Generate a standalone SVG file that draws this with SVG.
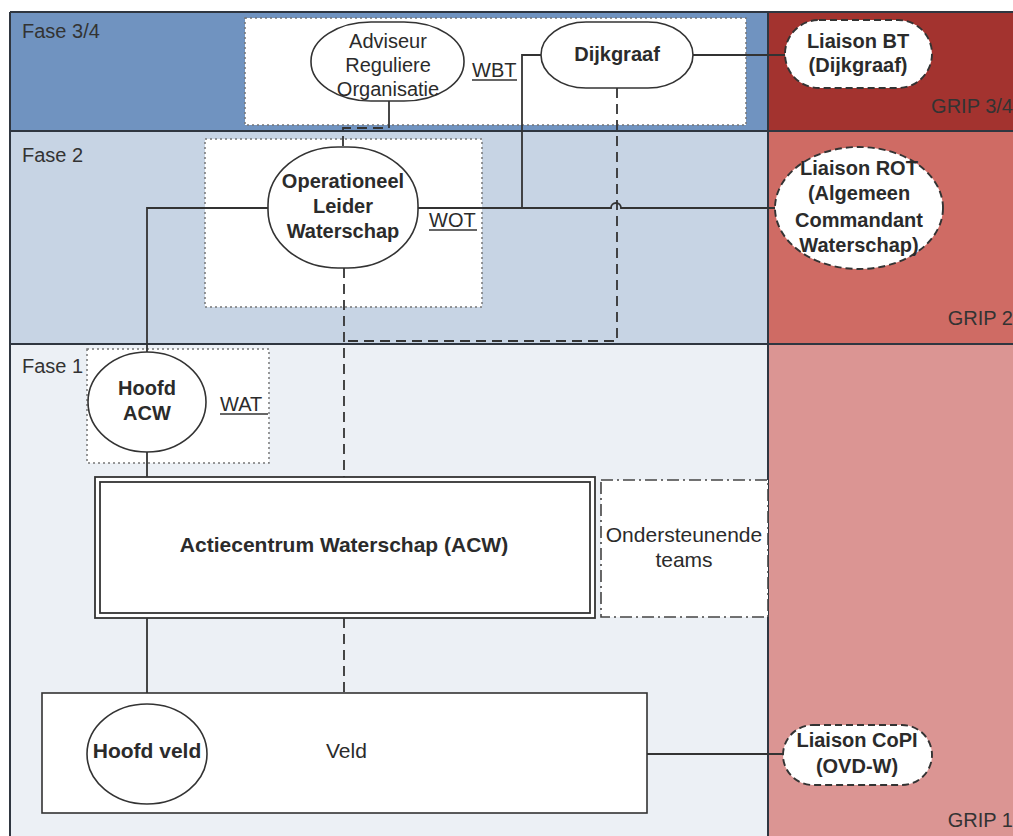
<svg xmlns="http://www.w3.org/2000/svg" width="1013" height="836" viewBox="0 0 1013 836">
<style>
text{font-family:"Liberation Sans",Arial,sans-serif;fill:#2b2b2b;font-size:20px}
.b{font-weight:bold}
.c{text-anchor:middle}
.e{text-anchor:end}
.big{font-size:21px}
.lab{fill:#333}
.band{stroke:#2f3640;stroke-width:2}
.node{fill:#fff;stroke:#333;stroke-width:1.6}
.liaison{fill:#fff;stroke:#333;stroke-width:1.9;stroke-dasharray:7 4}
.grp{fill:#fff;stroke:#777;stroke-width:1.5;stroke-dasharray:2 3}
.con{fill:none;stroke:#333;stroke-width:1.8}
.dash{fill:none;stroke:#333;stroke-width:1.8;stroke-dasharray:10 6}
.ul{stroke:#333;stroke-width:1.5}
</style>
<rect width="1013" height="836" fill="#fff"/>
<g id="bands">
<rect x="10" y="12" width="758" height="119" fill="#7093c0"/>
<rect x="10" y="131" width="758" height="213" fill="#c7d4e4"/>
<rect x="10" y="344" width="758" height="492" fill="#ecf0f5"/>
<rect x="768" y="12" width="245" height="119" fill="#a3332f"/>
<rect x="768" y="131" width="245" height="213" fill="#cf6b64"/>
<rect x="768" y="344" width="245" height="492" fill="#db9593"/>
<path class="band" d="M10,12 H1013 M10,131 H1013 M10,344 H1013 M10,12 V836 M768,12 V836" fill="none"/>
<text class="lab" x="22" y="38">Fase 3/4</text>
<text class="lab" x="22" y="162">Fase 2</text>
<text class="lab" x="22" y="373">Fase 1</text>
<text class="e lab" x="1013" y="113">GRIP 3/4</text>
<text class="e lab" x="1013" y="325">GRIP 2</text>
<text class="e lab" x="1013" y="827">GRIP 1</text>
</g>
<g id="group-bt"><rect class="grp" x="245" y="18" width="501" height="107"/></g>
<g id="group-wot"><rect class="grp" x="205" y="139" width="277" height="168"/><text x="429" y="227">WOT</text><line class="ul" x1="429" y1="230" x2="477" y2="230"/></g>
<g id="group-wat"><rect class="grp" x="87" y="349" width="182" height="114"/><text x="220" y="411">WAT</text><line class="ul" x1="220" y1="414" x2="268" y2="414"/></g>
<g id="label-wbt"><text x="472" y="77">WBT</text><line class="ul" x1="472" y1="80" x2="517" y2="80"/></g>
<g id="connectors">
<path class="con" d="M389,100 V118"/>
<path class="dash" d="M389,118 V128 H343 V147"/>
<path class="con" d="M418,208 H522 V55 H541"/>
<path class="con" d="M522,208 H611 A5,5 0 0 1 621,208 H775"/>
<path class="con" d="M693,55 H785"/>
<path class="con" d="M268,208 H147 V352"/>
<path class="con" d="M147,452 V478"/>
<path class="con" d="M147,618 V704"/>
<path class="dash" d="M617,88 V341 H344"/>
<path class="dash" d="M344,268 V478"/>
<path class="dash" d="M344,618 V693"/>
<path class="con" d="M647,754 H783"/>
</g>
<g id="adviseur"><rect class="node" x="311" y="22" width="153" height="79" rx="60" ry="39"/>
<text class="c" x="388" y="48">Adviseur</text><text class="c" x="388" y="72">Reguliere</text><text class="c" x="388" y="96">Organisatie</text></g>
<g id="dijkgraaf"><rect class="node" x="541" y="22" width="152" height="66" rx="45" ry="33"/>
<text class="c b" x="617" y="61">Dijkgraaf</text></g>
<g id="liaison-bt"><rect class="liaison" x="785" y="20" width="147" height="68" rx="34" ry="34"/>
<text class="c b" x="858" y="48">Liaison BT</text><text class="c b" x="858" y="72">(Dijkgraaf)</text></g>
<g id="operationeel"><rect class="node" x="268" y="147" width="150" height="121" rx="70" ry="58"/>
<text class="c b" x="343" y="188">Operationeel</text><text class="c b" x="343" y="213">Leider</text><text class="c b" x="343" y="238">Waterschap</text></g>
<g id="liaison-rot"><ellipse class="liaison" cx="859" cy="208" rx="84" ry="61"/>
<text class="c b" x="859" y="175">Liaison ROT</text><text class="c b" x="859" y="200">(Algemeen</text><text class="c b" x="859" y="227">Commandant</text><text class="c b" x="859" y="252">Waterschap)</text></g>
<g id="hoofd-acw"><ellipse class="node" cx="147" cy="402" rx="59" ry="50"/>
<text class="c b" x="147" y="395">Hoofd</text><text class="c b" x="147" y="420">ACW</text></g>
<g id="acw"><rect x="95" y="477" width="500" height="141" fill="#fff" stroke="#333" stroke-width="1.8"/>
<rect x="100" y="482" width="490" height="131" fill="none" stroke="#333" stroke-width="1.8"/>
<text class="c b big" x="344" y="552">Actiecentrum Waterschap (ACW)</text></g>
<g id="ondersteunende"><rect x="601" y="480" width="167" height="137" fill="#fff" stroke="#444" stroke-width="1.6" stroke-dasharray="12 4 2 4"/>
<text class="c big" x="684" y="542">Ondersteunende</text><text class="c big" x="684" y="567">teams</text></g>
<g id="veld"><rect x="42" y="693" width="605" height="120" fill="#fff" stroke="#333" stroke-width="1.6"/>
<text class="big" x="326" y="758">Veld</text></g>
<g id="hoofd-veld"><ellipse class="node" cx="147" cy="754" rx="60" ry="50"/>
<text class="c b big" x="147" y="758">Hoofd veld</text></g>
<g id="liaison-copi"><rect class="liaison" x="783" y="725" width="149" height="60" rx="30" ry="30"/>
<text class="c b" x="857" y="747">Liaison CoPI</text><text class="c b" x="857" y="773">(OVD-W)</text></g>
</svg>
